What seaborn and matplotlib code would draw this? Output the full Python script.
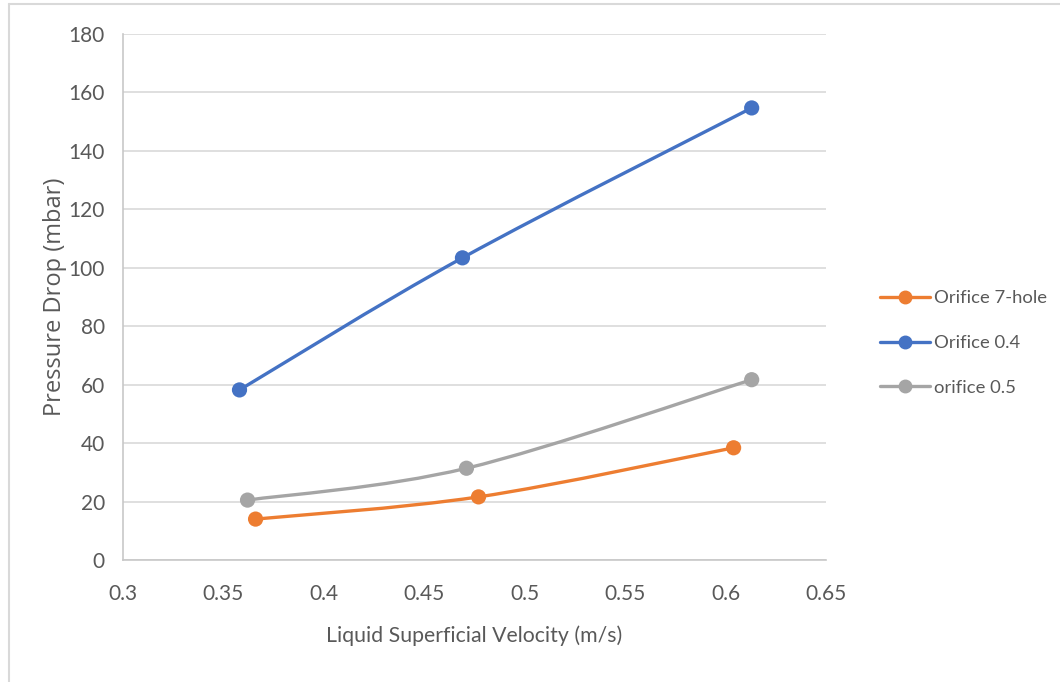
import numpy as np
import pandas as pd
import matplotlib
matplotlib.use("Agg")
import matplotlib.pyplot as plt
from matplotlib.path import Path
from matplotlib.patches import PathPatch
from matplotlib.lines import Line2D
import seaborn as sns

# --- data ---
series_names = ["Orifice 7-hole", "Orifice 0.4", "orifice 0.5"]
velocity_7hole = [0.366, 0.477, 0.604]
pressure_7hole = [14.0, 21.6, 38.4]
velocity_04 = [0.358, 0.469, 0.613]
pressure_04 = [58.2, 103.4, 154.7]
velocity_05 = [0.362, 0.471, 0.613]
pressure_05 = [20.5, 31.4, 61.7]
series_colors = ["#ED7D31", "#4472C4", "#A5A5A5"]

x_ticks = [0.3, 0.35, 0.4, 0.45, 0.5, 0.55, 0.6, 0.65]
x_tick_labels = ["0.3", "0.35", "0.4", "0.45", "0.5", "0.55", "0.6", "0.65"]
y_ticks = [0, 20, 40, 60, 80, 100, 120, 140, 160, 180]

df = pd.concat([
    pd.DataFrame({"velocity": velocity_7hole, "pressure": pressure_7hole, "series": series_names[0]}),
    pd.DataFrame({"velocity": velocity_04, "pressure": pressure_04, "series": series_names[1]}),
    pd.DataFrame({"velocity": velocity_05, "pressure": pressure_05, "series": series_names[2]}),
], ignore_index=True)


def smooth_path(xs, ys):
    """Excel-like smoothed line: cubic Bezier segments through the points."""
    pts = np.column_stack([xs, ys])
    n = len(pts)
    verts = [pts[0]]
    codes = [Path.MOVETO]
    for i in range(n - 1):
        p0 = pts[i - 1] if i > 0 else pts[i]
        p1 = pts[i]
        p2 = pts[i + 1]
        p3 = pts[i + 2] if i + 2 < n else pts[i + 1]
        c1 = p1 + (p2 - p0) / 6.0
        c2 = p2 - (p3 - p1) / 6.0
        verts += [c1, c2, p2]
        codes += [Path.CURVE4] * 3
    return Path(verts, codes)


sns.set_style("white")
plt.rcParams["font.family"] = ["Lato", "DejaVu Sans"]
text_color = "#595959"

fig = plt.figure(figsize=(10.6, 6.82), dpi=100)
ax = fig.add_axes([123 / 1060, 1 - 560 / 682, 703 / 1060, 526 / 682])

# smoothed lines
for name, color in zip(series_names, series_colors):
    sub = df[df["series"] == name]
    patch = PathPatch(smooth_path(sub["velocity"].values, sub["pressure"].values),
                      facecolor="none", edgecolor=color, lw=2.4, capstyle="round", zorder=3)
    ax.add_patch(patch)

# markers
sns.scatterplot(data=df, x="velocity", y="pressure", hue="series",
                palette=dict(zip(series_names, series_colors)), s=120,
                edgecolor="none", legend=False, ax=ax, zorder=4)

ax.set_xlim(0.3, 0.65)
ax.set_ylim(0, 180)
ax.set_xticks(x_ticks)
ax.set_xticklabels(x_tick_labels)
ax.set_yticks(y_ticks)
ax.grid(axis="y", color="#D9D9D9", lw=1.2)
ax.set_axisbelow(True)
for side in ["top", "right"]:
    ax.spines[side].set_visible(False)
for side in ["left", "bottom"]:
    ax.spines[side].set_color("#C8C8C8")
    ax.spines[side].set_linewidth(1.2)
ax.tick_params(axis="both", length=0, labelsize=15, labelcolor=text_color)
ax.tick_params(axis="y", pad=13)
ax.tick_params(axis="x", pad=17)

ax.set_xlabel("Liquid Superficial Velocity (m/s)", fontsize=15.3, color=text_color, labelpad=16)
ax.set_ylabel("Pressure Drop (mbar)", fontsize=17, color=text_color, labelpad=1,
              family=["Open Sans", "DejaVu Sans"])

handles = [Line2D([0], [0], color=c, lw=2.4, marker="o", markersize=9) for c in series_colors]
leg = fig.legend(handles, series_names, loc="center left", bbox_to_anchor=(880 / 1060, 1 - 343 / 682),
                 frameon=False, fontsize=13.3, handlelength=2.7, handletextpad=0.25,
                 borderpad=0, borderaxespad=0, labelspacing=1.55, labelcolor=text_color)

# outer chart border (top and left visible in the reference)
fig.add_artist(Line2D([9 / 1060, 9 / 1060], [0, 1 - 4 / 682], color="#D9D9D9", lw=1.5))
fig.add_artist(Line2D([9 / 1060, 1], [1 - 4 / 682, 1 - 4 / 682], color="#D9D9D9", lw=1.5))

fig.savefig("out.png", dpi=100)
plt.close(fig)
